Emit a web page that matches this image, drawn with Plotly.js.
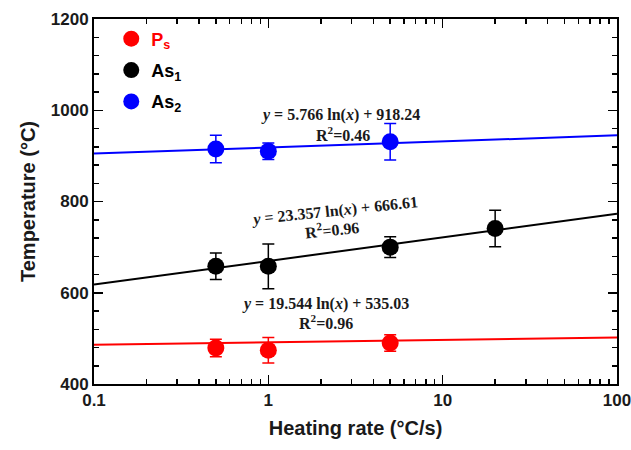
<!DOCTYPE html>
<html>
<head>
<meta charset="utf-8">
<script src="https://cdn.plot.ly/plotly-3.0.1.min.js"></script>
<style>html,body{margin:0;padding:0;background:#fff;}#chart{width:631px;height:450px;}</style>
</head>
<body>
<div id="chart"></div>
<script>
// Heating rates (°C/s)
const psRate = [0.5, 1, 5];
const psTemp = [479, 474, 490];
const psErr = [19, 28, 18];

const as1Rate = [0.5, 1, 5, 20];
const as1Temp = [658, 658, 700, 741];
const as1Err = [29, 49, 23, 40];

const as2Rate = [0.5, 1, 5];
const as2Temp = [915, 910, 931];
const as2Err = [30, 18, 40];

// Fit lines, endpoints
const fitX = [0.1, 100];
const psFitY = [486, 502];
const as1FitY = [618, 773];
const as2FitY = [905, 945];

const xTickVals = [0.1, 1, 10, 100];
const xTickText = ['0.1', '1', '10', '100'];

const eqTexts = [
  '<b><i>y</i> = 5.766 ln(<i>x</i>) + 918.24</b>',
  '<b>R<sup>2</sup>=0.46</b>',
  '<b><i>y</i> = 23.357 ln(<i>x</i>) + 666.61</b>',
  '<b>R<sup>2</sup>=0.96</b>',
  '<b><i>y</i> = 19.544 ln(<i>x</i>) + 535.03</b>',
  '<b>R<sup>2</sup>=0.96</b>'
];

const RED = '#ff0000', BLACK = '#000000', BLUE = '#0000ff';

function fit(y, c) {
  return {x: fitX, y: y, mode: 'lines', type: 'scatter', line: {color: c, width: 2}, showlegend: false, hoverinfo: 'skip'};
}
function pts(x, y, e, c, name, g) {
  return {x: x, y: y, mode: 'markers', type: 'scatter', name: name, legendgroup: g,
    marker: {color: c, size: 17},
    error_y: {type: 'data', array: e, visible: true, color: c, thickness: 1.5, width: 6}};
}

const data = [
  fit(psFitY, RED), fit(as1FitY, BLACK), fit(as2FitY, BLUE),
  pts(psRate, psTemp, psErr, RED, '<span style="color:#ff0000">P<sub>s</sub></span>', 'a'),
  pts(as1Rate, as1Temp, as1Err, BLACK, 'As<sub>1</sub>', 'b'),
  pts(as2Rate, as2Temp, as2Err, BLUE, 'As<sub>2</sub>', 'c')
];

const eqFont = {family: 'Liberation Serif, Times New Roman, serif', size: 16, color: '#1a1a1a'};
const annotations = [
  {xref: 'paper', yref: 'paper', x: (340-94)/523, y: (450-66-104)/365, text: eqTexts[0], showarrow: false, font: eqFont},
  {xref: 'paper', yref: 'paper', x: (343-94)/523, y: (450-66-122)/365, text: eqTexts[1], showarrow: false, font: eqFont},
  {xref: 'paper', yref: 'paper', x: (334-94)/523, y: (450-66-211)/365, text: eqTexts[2], showarrow: false, font: eqFont, textangle: -6},
  {xref: 'paper', yref: 'paper', x: (332-94)/523, y: (450-66-229)/365, text: eqTexts[3], showarrow: false, font: eqFont, textangle: -6},
  {xref: 'paper', yref: 'paper', x: (325-94)/523, y: (450-66-315)/365, text: eqTexts[4], showarrow: false, font: eqFont},
  {xref: 'paper', yref: 'paper', x: (326-94)/523, y: (450-66-334)/365, text: eqTexts[5], showarrow: false, font: eqFont}
];

const axisFont = {family: 'Liberation Sans, Arial, sans-serif', size: 17, color: '#1a1a1a', weight: 'bold'};

const layout = {
  width: 631, height: 450,
  margin: {l: 94, r: 14, t: 19, b: 66},
  paper_bgcolor: '#fff', plot_bgcolor: '#fff',
  showlegend: true,
  legend: {x: 0.033, y: 0.996, xanchor: 'left', yanchor: 'top', bgcolor: 'rgba(0,0,0,0)',
    font: {family: 'Liberation Sans, Arial, sans-serif', size: 18, color: '#000', weight: 'bold'},
    itemsizing: 'trace', tracegroupgap: 5, itemwidth: 30},
  xaxis: {
    type: 'log', range: [-1, 2],
    tickvals: xTickVals, ticktext: xTickText, ticklabeloverflow: 'allow',
    ticks: 'inside', ticklen: 9, tickwidth: 1.5, tickcolor: '#000',
    showline: true, linewidth: 2, linecolor: '#000', mirror: 'allticks',
    showgrid: false, zeroline: false,
    minor: {ticks: 'inside', ticklen: 5, tickwidth: 1.5, tickcolor: '#000', dtick: 'D1', showgrid: false},
    tickfont: axisFont,
    title: {text: '<b>Heating rate (°C/s)</b>', font: {family: 'Liberation Sans, Arial, sans-serif', size: 20, color: '#1a1a1a'}, standoff: 12}
  },
  yaxis: {
    range: [400, 1200], dtick: 200,
    ticks: 'inside', ticklen: 9, tickwidth: 1.5, tickcolor: '#000',
    showline: true, linewidth: 2, linecolor: '#000', mirror: 'allticks',
    showgrid: false, zeroline: false,
    minor: {ticks: 'inside', ticklen: 5, tickwidth: 1.5, tickcolor: '#000', dtick: 40, showgrid: false},
    tickfont: axisFont,
    title: {text: '<b>Temperature (°C)</b>', font: {family: 'Liberation Sans, Arial, sans-serif', size: 20, color: '#1a1a1a'}, standoff: 10}
  },
  annotations: annotations
};

Plotly.newPlot('chart', data, layout, {displayModeBar: false, staticPlot: true});
</script>
</body>
</html>
